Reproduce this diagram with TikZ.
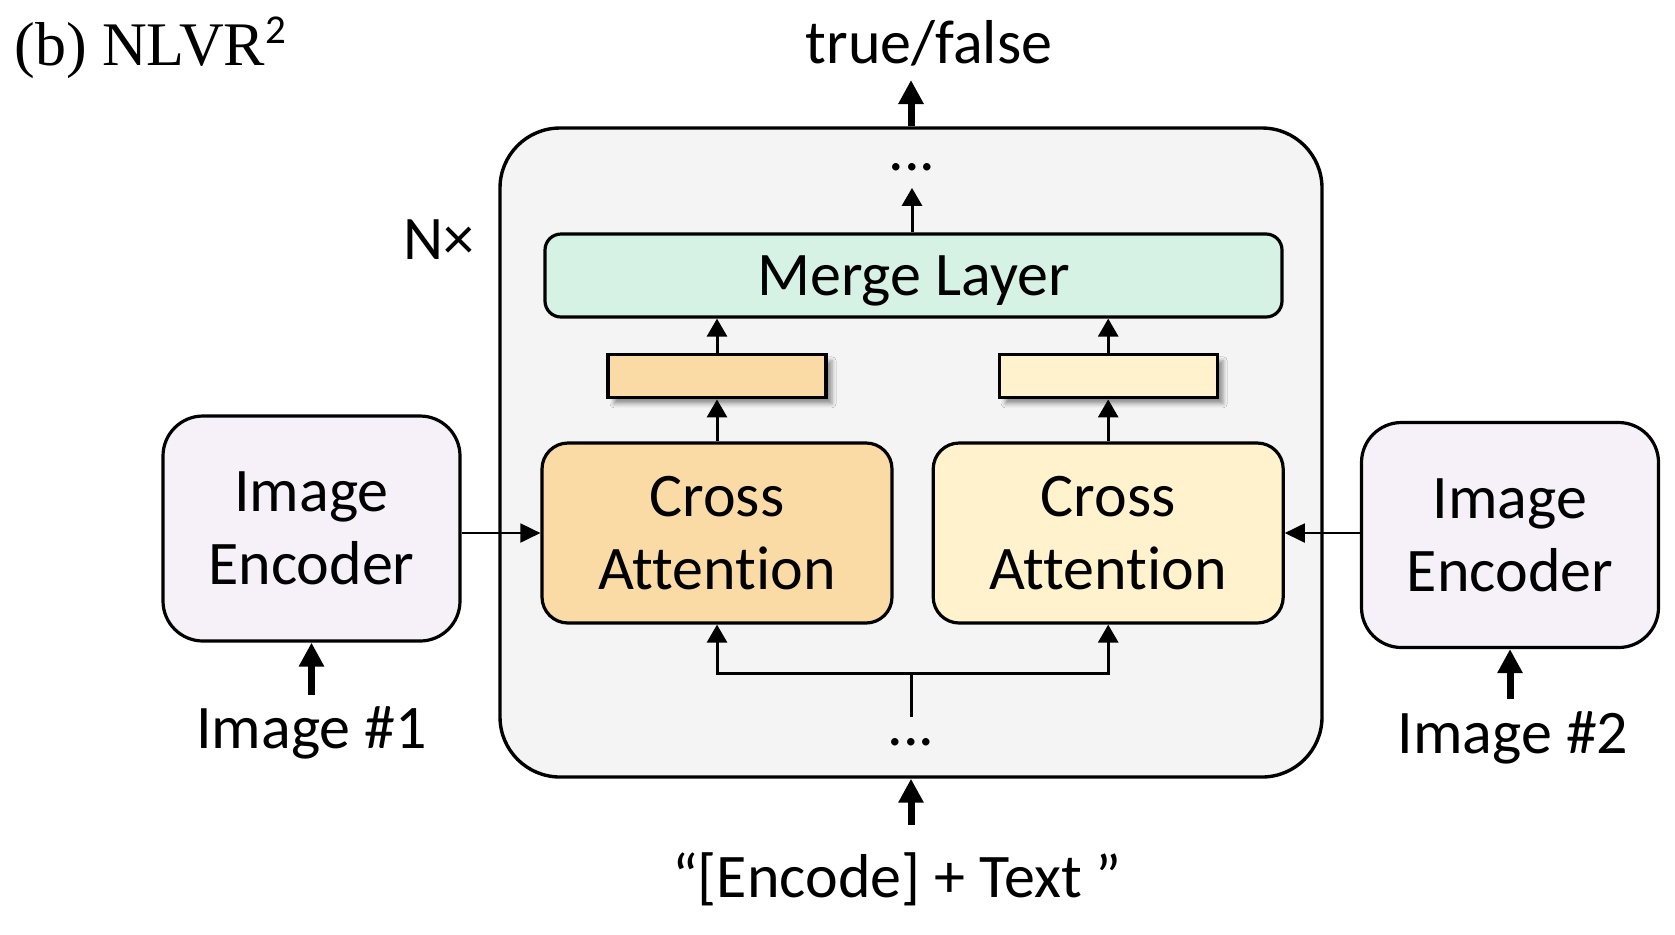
\documentclass[tikz,border=0pt]{standalone}
\usepackage{fontspec}
\setmainfont{Carlito}[Ligatures=CommonOff]
\newfontfamily\serifhead{Liberation Serif}
\usetikzlibrary{positioning,arrows.meta,shadows.blur}

\definecolor{framefill}{RGB}{244,244,244}
\definecolor{mergefill}{RGB}{213,242,229}
\definecolor{orangefill}{RGB}{251,219,165}
\definecolor{yellowfill}{RGB}{255,242,205}
\definecolor{encfill}{RGB}{246,240,248}

\begin{document}
\begin{tikzpicture}[
      x=0.5pt, y=-0.5pt,
      nodes={font=\fontsize{31}{36.5}\selectfont, inner sep=0pt},
      block/.style={draw=black, line width=1.6pt, align=center},
      attn/.style={block, rounded corners=13pt, minimum width=175pt, minimum height=90pt},
      vec/.style={draw=black, line width=1.6pt, minimum width=109pt, minimum height=21.5pt,
        blur shadow={shadow xshift=3pt, shadow yshift=-3pt, shadow blur radius=2pt}},
      enc/.style={block, fill=encfill, rounded corners=20pt, minimum width=148.5pt, minimum height=112.5pt},
      arr/.style={-{Triangle[length=9pt,width=10pt]}, line width=1.5pt},
      sidearr/.style={-{Triangle[length=10pt,width=9.5pt]}, line width=1pt},
      thickarr/.style={-{Triangle[length=12pt,width=12pt]}, line width=3.5pt},
      tree/.style={line width=1.5pt}
      ]
  \useasboundingbox (0,0) rectangle (1675,934);

  % title
  \node[anchor=base west] (title) at (14,65)
    {{\serifhead (b) NLVR}\raisebox{11pt}{\fontsize{20.5}{20.5}\selectfont 2}};

  % the stacked block
  \node[draw=black, line width=1.7pt, fill=framefill, rounded corners=30pt,
        minimum width=411pt, minimum height=324.5pt] (frame) at (911,452.5) {};
  \node[anchor=base] (nx) at (439,259) {N×};

  \node[block, fill=mergefill, rounded corners=8pt, minimum width=368.5pt,
        minimum height=41.5pt, text depth=0pt] (merge) at (913.5,275.5) {Merge Layer};

  \node[attn, fill=orangefill] (cal) at (717,533) {Cross\\Attention};
  \node[attn, fill=yellowfill, right = 19pt of cal] (car) {Cross\\Attention};

  \node[vec, fill=orangefill, above = 21pt of cal] (vecl) {};
  \node[vec, fill=yellowfill, above = 21pt of car] (vecr) {};

  \node[anchor=base] (topdots) at (912,170) {...};
  \node[anchor=base] (botdots) at (911,745) {...};

  % image side
  \node[enc] (iel) at (311.5,528.5) {Image\\Encoder};
  \node[enc] (ier) at (1510,535) {Image\\Encoder};
  \node[below = 32pt of iel] (img1) {Image \#1};
  \node[below = 31pt of ier, xshift=1.5pt] (img2) {Image \#2};

  % outside labels
  \node[anchor=base] (tf) at (929,63) {true/false};
  \node[anchor=base] (txt) at (897,897) {“[Encode] + Text ”};

  \coordinate (outtip) at (frame.north |- 0,80);
  \coordinate (intail) at (frame.south |- 0,825);
  \coordinate (split) at (botdots.north |- 0,673);

  % connect the nodes
  \draw[thickarr] (frame.north) -- (outtip);
  \draw[thickarr] (intail) -- (frame.south);
  \draw[thickarr, shorten <=6pt] (img1) -- (iel);
  \draw[thickarr, shorten <=6pt] (img2.north -| ier.south) -- (ier.south);

  \draw[sidearr] (iel.east |- cal.west) -- (cal.west);
  \draw[sidearr] (ier.west |- car.east) -- (car.east);

  \draw[arr] (cal) -- (vecl);
  \draw[arr] (car) -- (vecr);
  \draw[arr] (vecl) -- (vecl |- merge.south);
  \draw[arr] (vecr) -- (vecr |- merge.south);
  \draw[arr, shorten >=8.5pt] (topdots |- merge.north) -- (topdots.south);

  \draw[tree, shorten <=10.5pt] (botdots.north) -- (split);
  \draw[arr] (split) -| (cal.south);
  \draw[arr] (split) -| (car.south);

\end{tikzpicture}
\end{document}
